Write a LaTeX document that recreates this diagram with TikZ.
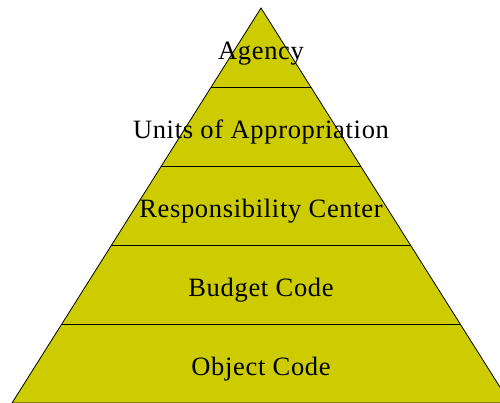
\documentclass[tikz,border=0pt]{standalone}
\usepackage{fontspec}
\setmainfont[LetterSpace=2.6]{Liberation Serif}
\usetikzlibrary{calc}
\definecolor{pyramidfill}{RGB}{204,204,0}

\begin{document}
\begin{tikzpicture}
  [x=1pt, y=-1pt,
   layer/.style={draw=black, line width=0.8pt},
   tier/.style={font=\fontsize{26.5}{30}\selectfont, inner sep=0pt, anchor=base}]
  \useasboundingbox (0,0) rectangle (500,403);
  \clip (0,0) rectangle (500,403);
  \coordinate (apex) at (261,8);
  \coordinate (bl) at (12,403);
  \coordinate (br) at (510,403);
  \filldraw[layer, fill=pyramidfill] (apex) -- (bl) -- (br) -- cycle;
  \foreach \i in {1,...,4}{
    \coordinate (l\i) at ($(apex)!\i/5!(bl)$);
    \coordinate (r\i) at ($(apex)!\i/5!(br)$);
    \draw[layer] (l\i) -- (r\i);
  }
  \foreach \name [count=\i] in {Agency, Units of Appropriation, Responsibility Center, Budget Code, Object Code}
    \node[tier] (tier\i) at (261, 8+79*\i-27.5) {\name};
\end{tikzpicture}
\end{document}
